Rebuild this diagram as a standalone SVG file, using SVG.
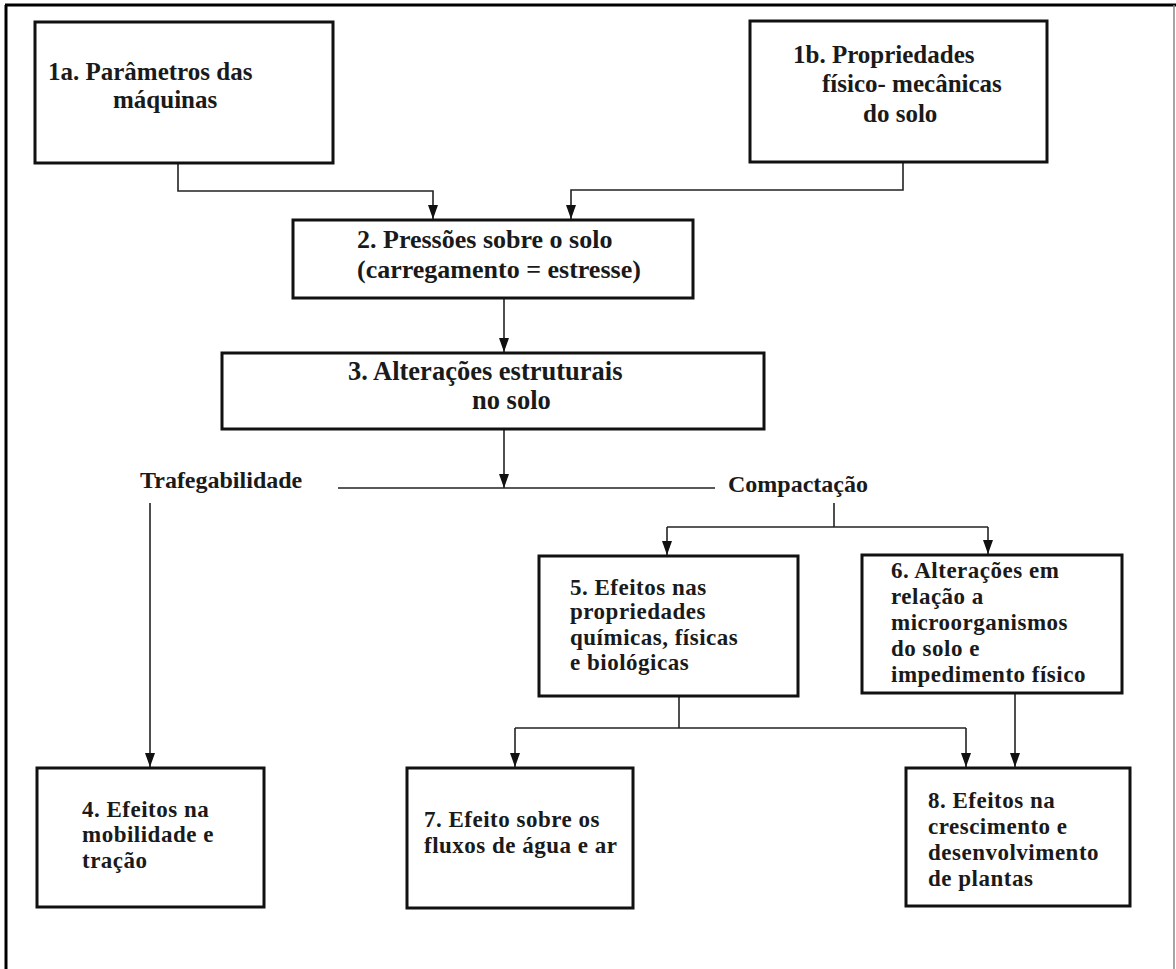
<svg xmlns="http://www.w3.org/2000/svg" width="1176" height="969" viewBox="0 0 1176 969">
<style>
.box{fill:#fff;stroke:#111;stroke-width:3}
.t{font-family:"Liberation Serif","Times New Roman",serif;font-weight:bold;font-size:25px;fill:#1a1a1a}
.t2{font-size:26px}
.t3{font-size:26.5px}
.s{font-family:"Liberation Serif","Times New Roman",serif;font-weight:bold;font-size:23px;letter-spacing:0.5px;fill:#1a1a1a}
.l{font-family:"Liberation Serif","Times New Roman",serif;font-weight:bold;font-size:24px;fill:#1a1a1a}
.c{fill:none;stroke:#222;stroke-width:1.6}
</style>
<defs>
<marker id="dn" markerUnits="userSpaceOnUse" markerWidth="10" markerHeight="14" refX="5" refY="14" viewBox="0 0 10 14">
<path d="M0,0 L10,0 L5,14 Z" fill="#111"/>
</marker>
</defs>
<rect width="1176" height="969" fill="#fff"/>
<g id="frame">
<line x1="6" y1="5" x2="6" y2="969" stroke="#000" stroke-width="3"/>
<line x1="5" y1="5" x2="1176" y2="5" stroke="#000" stroke-width="3"/>
<line x1="1174" y1="5" x2="1174" y2="969" stroke="#888" stroke-width="1.5"/>
</g>
<g id="connectors">
<path class="c" d="M178 163 V191 H433 V219" marker-end="url(#dn)"/>
<path class="c" d="M903 162 V190 H571 V219" marker-end="url(#dn)"/>
<path class="c" d="M504 298 V352" marker-end="url(#dn)"/>
<path class="c" d="M504 429 V488" marker-end="url(#dn)"/>
<path class="c" d="M338 488 H715"/>
<path class="c" d="M834 503 V527"/>
<path class="c" d="M667 527 H988"/>
<path class="c" d="M667 527 V555" marker-end="url(#dn)"/>
<path class="c" d="M988 527 V554" marker-end="url(#dn)"/>
<path class="c" d="M150 503 V767" marker-end="url(#dn)"/>
<path class="c" d="M679 696 V728"/>
<path class="c" d="M515 728 H966"/>
<path class="c" d="M515 728 V767" marker-end="url(#dn)"/>
<path class="c" d="M966 728 V767" marker-end="url(#dn)"/>
<path class="c" d="M1015 693 V767" marker-end="url(#dn)"/>
</g>
<g id="n1a">
<rect class="box" x="35" y="22" width="298" height="141"/>
<text class="t" x="48" y="80">1a. Parâmetros das</text>
<text class="t" x="113" y="108">máquinas</text>
</g>
<g id="n1b">
<rect class="box" x="750" y="21" width="297" height="141"/>
<text class="t" x="793" y="63">1b. Propriedades</text>
<text class="t" x="822" y="92">físico- mecânicas</text>
<text class="t" x="863" y="122">do solo</text>
</g>
<g id="n2">
<rect class="box" x="293" y="220" width="400" height="78"/>
<text class="t t2" x="357" y="248">2. Pressões sobre o solo</text>
<text class="t t2" x="357" y="278">(carregamento = estresse)</text>
</g>
<g id="n3">
<rect class="box" x="222" y="353" width="542" height="76"/>
<text class="t t3" x="348" y="380">3. Alterações estruturais</text>
<text class="t t3" x="472" y="409">no solo</text>
</g>
<g id="trafegabilidade">
<text class="l" x="140" y="488">Trafegabilidade</text>
</g>
<g id="compactacao">
<text class="l" x="728" y="492">Compactação</text>
</g>
<g id="n4">
<rect class="box" x="37" y="768" width="227" height="139"/>
<text class="s" x="82" y="817">4. Efeitos na</text>
<text class="s" x="82" y="842">mobilidade e</text>
<text class="s" x="82" y="868">tração</text>
</g>
<g id="n5">
<rect class="box" x="539" y="556" width="259" height="140"/>
<text class="s" x="570" y="595">5. Efeitos nas</text>
<text class="s" x="570" y="619">propriedades</text>
<text class="s" x="570" y="645">químicas, físicas</text>
<text class="s" x="570" y="670">e biológicas</text>
</g>
<g id="n6">
<rect class="box" x="862" y="555" width="260" height="138"/>
<text class="s" x="891" y="578">6. Alterações em</text>
<text class="s" x="891" y="604">relação a</text>
<text class="s" x="891" y="630">microorganismos</text>
<text class="s" x="891" y="656">do solo e</text>
<text class="s" x="891" y="682">impedimento físico</text>
</g>
<g id="n7">
<rect class="box" x="407" y="768" width="226" height="140"/>
<text class="s" x="424" y="827">7. Efeito sobre os</text>
<text class="s" x="424" y="853">fluxos de água e ar</text>
</g>
<g id="n8">
<rect class="box" x="906" y="768" width="224" height="138"/>
<text class="s" x="928" y="808">8. Efeitos na</text>
<text class="s" x="928" y="834">crescimento e</text>
<text class="s" x="928" y="860">desenvolvimento</text>
<text class="s" x="928" y="886">de plantas</text>
</g>
</svg>
